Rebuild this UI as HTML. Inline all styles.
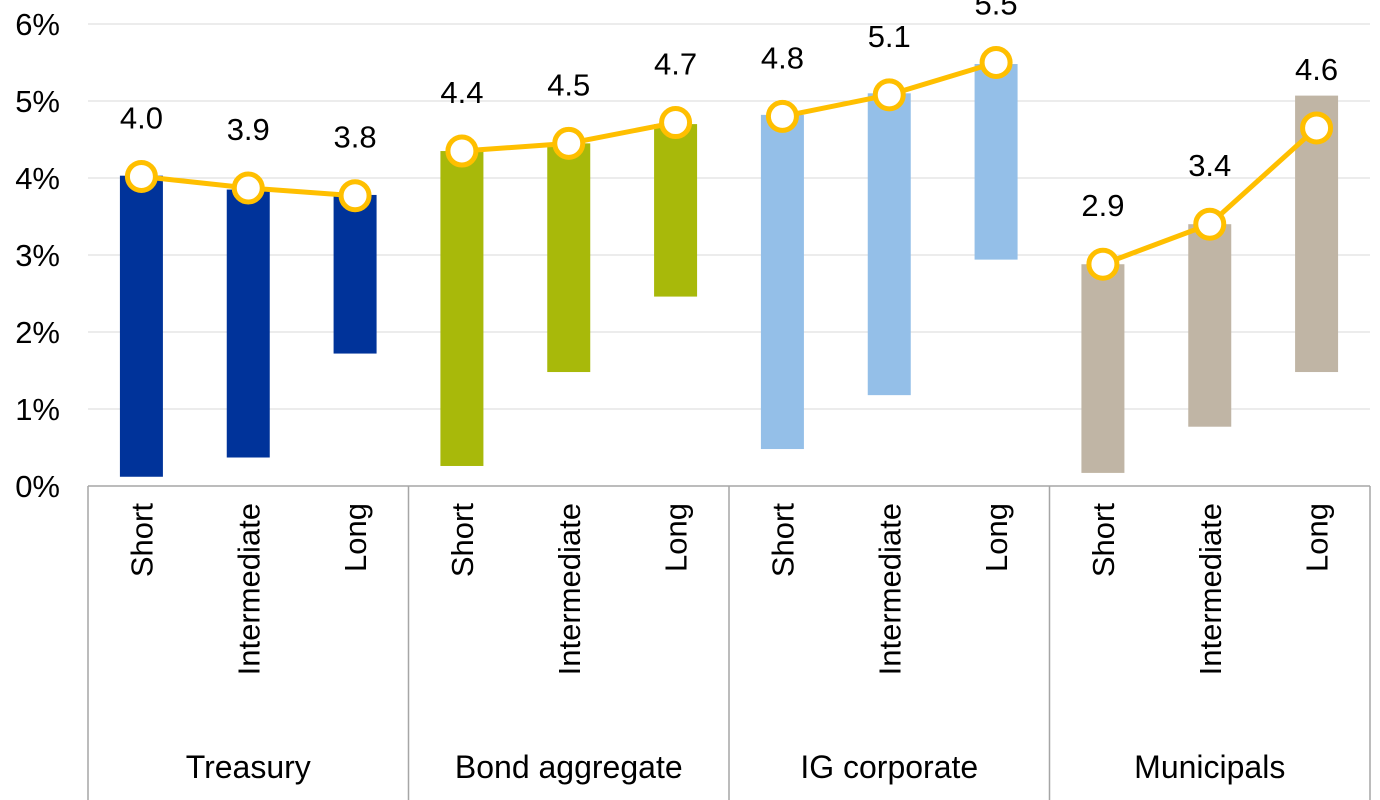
<!DOCTYPE html>
<html><head><meta charset="utf-8"><style>
html,body{margin:0;padding:0;background:#fff;}
svg{display:block;font-family:"Liberation Sans",sans-serif;}
</style></head><body>
<svg id="chart" width="1380" height="800" viewBox="0 0 1380 800"></svg>
<script>
const groups = ["Treasury","Bond aggregate","IG corporate","Municipals"];
const categories = ["Short","Intermediate","Long"];
const barTop = [4.03,3.85,3.78, 4.35,4.45,4.70, 4.82,5.10,5.48, 2.88,3.40,5.07];
const barBottom = [0.12,0.37,1.72, 0.26,1.48,2.46, 0.48,1.18,2.94, 0.17,0.77,1.48];
const lineValues = [4.02,3.87,3.77, 4.35,4.45,4.72, 4.80,5.08,5.50, 2.88,3.40,4.65];
const valueLabels = ["4.0","3.9","3.8","4.4","4.5","4.7","4.8","5.1","5.5","2.9","3.4","4.6"];
const yTicks = [0,1,2,3,4,5,6];
const groupColors = ["#00339a","#a8b90a","#94bfe8","#c0b5a5"];

const NS="http://www.w3.org/2000/svg";
const svg=document.getElementById('chart');
const x0=88, x1=1370, yTop=24, yBot=486, yMax=6;
const n=barTop.length, step=(x1-x0)/n;
const y=v=>yBot-(v/yMax)*(yBot-yTop);
const xc=i=>x0+step*(i+0.5);
function mk(tag,attrs,parent){const e=document.createElementNS(NS,tag);for(const k in attrs)e.setAttribute(k,attrs[k]);(parent||svg).appendChild(e);return e;}

yTicks.forEach(t=>{
  if(t>0){const g=mk('line',{x1:x0,x2:x1,y1:y(t),y2:y(t),stroke:'#d9d9d9','stroke-width':1});
  
  }
  const tx=mk('text',{x:60,y:y(t)+11,'text-anchor':'end','font-size':31,fill:'#000'});
  tx.textContent=t+'%';
  
  
});

barTop.forEach((v,i)=>{
  const r=mk('rect',{x:xc(i)-21.5,width:43,y:y(v),height:y(barBottom[i])-y(v),fill:groupColors[Math.floor(i/3)]});
  
  
});

// axis frame
const ax=mk('line',{x1:x0,x2:x1,y1:yBot,y2:yBot,stroke:'#a6a6a6','stroke-width':1.5});


for(let g=0;g<=groups.length;g++){
  const sx=x0+step*3*g;
  const l=mk('line',{x1:sx,x2:sx,y1:yBot,y2:800,stroke:'#a6a6a6','stroke-width':1.5});
  
  
}
groups.forEach((gname,g)=>{
  const t=mk('text',{x:x0+step*(3*g+1.5),y:778,'text-anchor':'middle','font-size':32,fill:'#000'});
  t.textContent=gname;
  
  
});
barTop.forEach((v,i)=>{
  const cx=xc(i)+11;
  const t=mk('text',{x:cx,y:503,'text-anchor':'end','font-size':31,fill:'#000',transform:`rotate(-90 ${cx} 503)`});
  t.textContent=categories[i%3];
  
  
});

// lines per group
for(let g=0;g<groups.length;g++){
  const pts=[0,1,2].map(k=>{const i=g*3+k;return xc(i)+','+y(lineValues[i]);}).join(' ');
  const pl=mk('polyline',{points:pts,fill:'none',stroke:'#ffbf00','stroke-width':5});
  
  
}
lineValues.forEach((v,i)=>{
  const c=mk('circle',{cx:xc(i),cy:y(v),r:14,fill:'#fff',stroke:'#ffbf00','stroke-width':5});
  
  
  const t=mk('text',{x:xc(i),y:y(v)-48,'text-anchor':'middle','font-size':31,fill:'#000'});
  t.textContent=valueLabels[i];
  
  
});
</script>
</body></html>
